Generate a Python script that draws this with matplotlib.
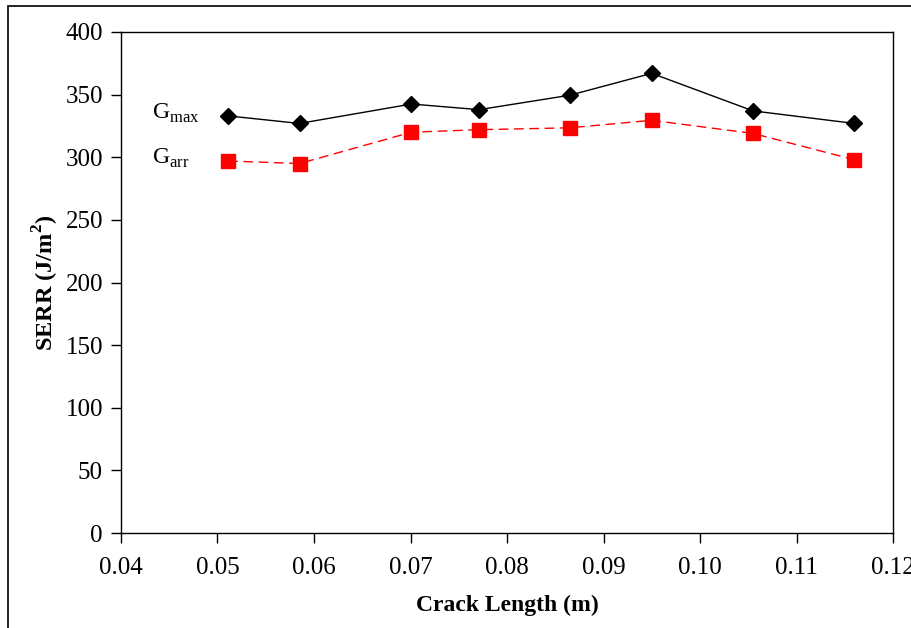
import matplotlib
matplotlib.use("Agg")
import matplotlib.pyplot as plt
from matplotlib.patches import Rectangle

plt.rcParams['font.family'] = ['Liberation Serif', 'DejaVu Serif']
plt.rcParams['mathtext.fontset'] = 'custom'
plt.rcParams['mathtext.rm'] = 'Liberation Serif'
plt.rcParams['mathtext.bf'] = 'Liberation Serif:bold'

# crack length (m) and strain energy release rates (J/m^2)
crack_length = [0.0511, 0.0585, 0.0701, 0.0771, 0.0865, 0.0950, 0.1055, 0.1160]
g_max = [333, 327, 342.5, 338, 349.5, 367, 337, 327]
g_arr = [297, 295, 320, 322, 323.5, 329.5, 319, 298]

x_ticks = [0.04, 0.05, 0.06, 0.07, 0.08, 0.09, 0.10, 0.11, 0.12]
y_ticks = [0, 50, 100, 150, 200, 250, 300, 350, 400]

fig = plt.figure(figsize=(9.12, 6.28), dpi=100)
ax = fig.add_axes([121 / 912, 1 - 533 / 628, (893 - 121) / 912, (533 - 32) / 628])

# outer frame of the chart area
fig.patches.append(Rectangle((8 / 912, -0.05), 1.0, 1 - 6 / 628 + 0.05,
                             transform=fig.transFigure, fill=False,
                             edgecolor='black', linewidth=1.2))

ax.plot(crack_length, g_max, color='black', linewidth=1.0, marker='D',
        markersize=8.5, markerfacecolor='black', markeredgecolor='black')
ax.plot(crack_length, g_arr, color='red', linewidth=1.0, linestyle=(0, (7, 4)),
        marker='s', markersize=10, markerfacecolor='red', markeredgecolor='red')

ax.set_xlim(0.04, 0.12)
ax.set_ylim(0, 400)
ax.set_xticks(x_ticks)
ax.set_xticklabels([f"{t:.2f}" for t in x_ticks])
ax.set_yticks(y_ticks)
ax.tick_params(direction='out', length=7, width=1, labelsize=18, pad=6)
ax.tick_params(axis='x', pad=10)

for s in ax.spines.values():
    s.set_linewidth(1.0)
    s.set_color('black')

ax.set_xlabel('Crack Length (m)', fontsize=17, fontweight='bold', labelpad=12)
ax.set_ylabel(r'SERR (J/m$^{\mathbf{2}}$)', fontsize=17.5, fontweight='bold', labelpad=3)

ax.text(0.0432, 335, r'G$_{\mathrm{max}}$', fontsize=17, va='center', ha='left')
ax.text(0.0432, 299, r'G$_{\mathrm{arr}}$', fontsize=17, va='center', ha='left')

fig.savefig('out.png', dpi=100)
